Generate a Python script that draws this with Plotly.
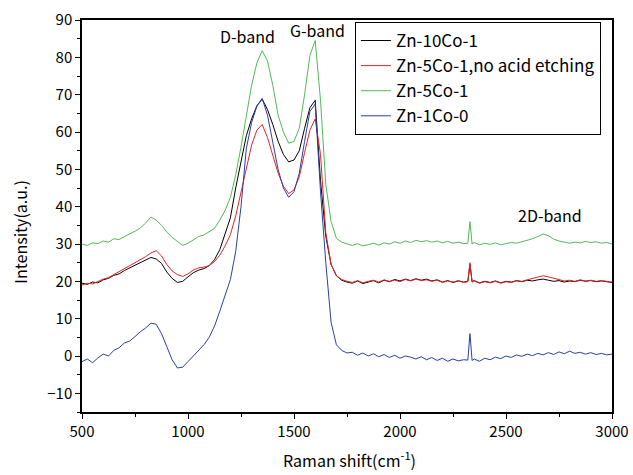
import plotly.graph_objects as go

# Raman shift grid (cm^-1)
raman_shift = list(range(500, 2301, 25)) + [2320, 2330, 2340] + list(range(2350, 3001, 25))

series_names = ["Zn-10Co-1", "Zn-5Co-1,no acid etching", "Zn-5Co-1", "Zn-1Co-0"]

zn10co1 = [
    19.5, 19.2, 19.8, 19.6, 20.4, 20.8, 21.6, 22.0, 22.9, 23.6,
    24.5, 25.2, 25.8, 26.4, 26.0, 24.8, 22.5, 20.8, 19.7, 20.0,
    21.2, 22.3, 23.0, 23.4, 24.2, 25.8, 28.5, 32.5, 37.0, 45.0,
    52.0, 59.0, 63.5, 67.0, 68.8, 66.0, 62.0, 57.5, 54.0, 52.0,
    52.5, 55.0, 61.0, 66.5, 68.5, 47.0, 32.0, 24.5, 21.5, 20.3,
    19.8, 19.5, 20.1, 19.4, 19.8, 20.2, 19.6, 20.3, 19.9, 20.5,
    20.1, 20.6, 20.2, 20.7, 20.3, 20.6, 20.1, 20.4, 19.8, 20.2,
    19.7, 20.1, 19.8, 20.0, 24.5, 19.9, 20.2, 19.6, 20.0, 19.7,
    20.1, 19.6, 20.0, 19.8, 20.2, 19.9, 20.3, 20.1, 20.4, 20.6,
    20.3, 20.0, 20.2, 19.8, 20.1, 19.9, 20.3, 20.0, 20.2, 19.9,
    20.1, 19.8, 19.7,
]

zn5co1_noetch = [
    19.0, 19.5, 19.3, 20.0, 20.6, 21.0, 21.8, 22.4, 23.3, 24.2,
    25.0, 25.8, 26.6, 27.6, 28.2, 26.8, 24.5, 22.8, 21.8, 21.3,
    22.0, 23.0, 23.6, 23.8, 24.2, 25.3, 27.0, 29.5, 32.5, 37.5,
    44.0, 50.5, 56.5, 60.5, 62.0, 58.5, 53.5, 49.0, 45.5, 43.5,
    44.5, 48.0, 54.5, 60.5, 63.5, 54.0, 33.0, 24.5, 21.5, 20.5,
    20.0, 19.7, 20.2, 19.6, 20.0, 20.3, 19.8, 20.4, 20.0, 20.3,
    19.9, 20.5, 20.1, 20.6, 20.2, 20.4, 20.0, 20.3, 19.7, 20.1,
    19.8, 20.2, 19.7, 19.9, 25.0, 19.8, 20.1, 19.5, 19.9, 19.6,
    20.0, 19.5, 19.9, 19.7, 20.1, 20.0, 20.4, 20.8, 21.2, 21.5,
    21.2, 20.8, 20.4, 20.1, 20.3, 20.0, 20.4, 20.1, 20.3, 20.0,
    20.2, 19.9, 19.8,
]

zn5co1 = [
    30.0, 29.6, 30.3, 30.1, 30.8, 30.5, 31.4, 31.2, 32.0, 32.6,
    33.4, 34.3, 35.6, 37.2, 36.4, 35.0, 33.2, 31.8, 30.6, 29.6,
    30.2, 31.2, 32.0, 32.4, 33.2, 34.2, 36.4, 39.0, 42.5, 48.5,
    56.0, 64.5, 72.5, 78.5, 81.8, 79.0, 72.5, 64.5, 60.0, 57.0,
    57.5, 61.0, 70.0, 80.5, 84.5, 68.5, 46.0, 36.0, 31.5, 30.5,
    30.0, 29.6, 30.1, 29.5, 29.8, 30.2, 29.7, 30.3, 30.0, 30.6,
    30.2, 30.8, 30.4, 31.0, 30.6, 30.9, 30.5, 30.8, 30.3, 30.7,
    30.2, 30.5, 30.1, 30.2, 36.0, 30.0, 30.4, 29.8, 30.2, 29.9,
    30.3, 29.8, 30.1, 30.4, 30.2, 30.6, 30.8, 31.4, 32.0, 32.7,
    32.2, 31.3, 30.8, 30.5, 30.2, 30.5, 30.3, 30.7, 30.4, 30.6,
    30.2, 30.4, 30.0,
]

zn1co0 = [
    -1.5, -0.8, -1.8, -0.5, 0.5, 0.0, 1.5, 2.2, 3.5, 4.0,
    5.2, 6.5, 7.5, 8.8, 8.5, 6.0, 2.5, -1.0, -3.2, -3.0,
    -1.5, 0.0, 1.5, 3.0, 5.0, 8.0, 12.0, 16.0, 20.5, 28.0,
    40.0, 55.5, 62.5, 67.0, 69.0, 64.5, 57.0, 50.0, 45.0, 42.5,
    44.0, 49.0, 57.5, 65.5, 67.5, 44.0, 25.0, 9.0, 3.0, 1.5,
    0.8, 1.0, 0.2, 0.8, 0.0, 0.6, -0.2, 0.4, -0.4, 0.2,
    -0.6, 0.0, -0.3, -0.8, -0.2, -1.0, -0.4, -1.2, -0.6, -1.4,
    -0.8, -1.3, -1.0, -1.1, 6.0, -1.2, -0.8, -1.4, -0.6, -1.0,
    -0.3, -0.7, 0.0, -0.4, 0.3, -0.1, 0.5, 0.1, 0.7, 0.3,
    0.9, 0.4, 1.1, 0.6, 1.3, 0.7, 1.0, 0.5, 0.9, 0.4,
    0.7, 0.3, 0.5,
]

series_values = [zn10co1, zn5co1_noetch, zn5co1, zn1co0]
colors = ["#000000", "#ee2020", "#50bc50", "#2a3fa8"]

band_labels = ["D-band", "G-band", "2D-band"]
band_x = [1280, 1613, 2708]
band_y = [85.8, 87.2, 37.8]

x_title = "Raman shift(cm<sup>-1</sup>)"
y_title = "Intensity(a.u.)"

FONT = "Noto Sans CJK JP"

fig = go.Figure()
for name, vals, col in zip(series_names, series_values, colors):
    fig.add_trace(go.Scatter(x=raman_shift, y=vals, mode="lines", name=name,
                             line=dict(color=col, width=1)))

for t, bx, by in zip(band_labels, band_x, band_y):
    fig.add_annotation(x=bx, y=by, text=t, showarrow=False,
                       font=dict(family=FONT, size=16, color="black"))

# axis titles placed as paper annotations
fig.add_annotation(xref="paper", yref="paper", x=0.505, y=-0.12, text=x_title,
                   showarrow=False, xanchor="center", yanchor="middle",
                   font=dict(family=FONT, size=16, color="black"))
fig.add_annotation(xref="paper", yref="paper", x=-0.117, y=0.46, text=y_title,
                   showarrow=False, textangle=-90, xanchor="center", yanchor="middle",
                   font=dict(family=FONT, size=16, color="black"))

axis_common = dict(showline=True, linecolor="black", linewidth=1.5, mirror=True,
                   ticks="outside", ticklen=5, tickwidth=1.2, tickcolor="black",
                   showgrid=False, zeroline=False, automargin=False,
                   tickfont=dict(family=FONT, size=15, color="black"))

fig.update_xaxes(range=[500, 3000], dtick=500, tick0=500,
                 minor=dict(dtick=250, ticks="outside", ticklen=3, tickcolor="black"),
                 **axis_common)
fig.update_yaxes(range=[-15, 90], dtick=10, tick0=0,
                 minor=dict(dtick=5, ticks="outside", ticklen=3, tickcolor="black"),
                 **axis_common)

fig.update_layout(
    width=633, height=475,
    margin=dict(l=82, r=21, t=20, b=63),
    paper_bgcolor="white", plot_bgcolor="white",
    showlegend=True,
    legend=dict(x=0.515, y=0.995, xanchor="left", yanchor="top",
                bgcolor="white", bordercolor="black", borderwidth=1,
                font=dict(family=FONT, size=17, color="black"),
                tracegroupgap=0, itemwidth=30),
)

fig.write_html("out.html", config={"displayModeBar": False},
               post_script="document.body.style.margin='0';document.body.style.padding='0';")
